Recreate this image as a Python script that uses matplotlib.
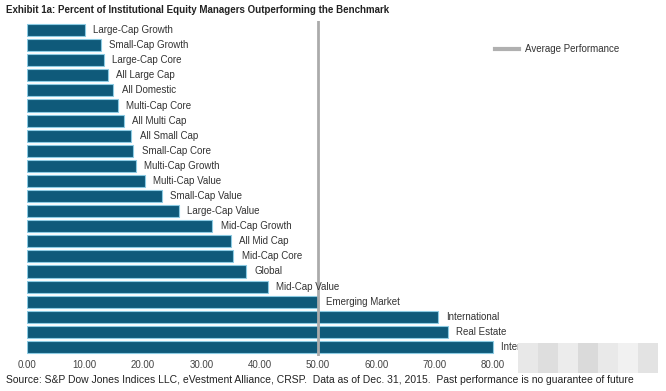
import matplotlib
matplotlib.use("Agg")
import matplotlib.pyplot as plt
from matplotlib.patches import Rectangle
from matplotlib.lines import Line2D
from matplotlib.transforms import Bbox, TransformedBbox

categories = ["Large-Cap Growth", "Small-Cap Growth", "Large-Cap Core", "All Large Cap",
              "All Domestic", "Multi-Cap Core", "All Multi Cap", "All Small Cap",
              "Small-Cap Core", "Multi-Cap Growth", "Multi-Cap Value", "Small-Cap Value",
              "Large-Cap Value", "Mid-Cap Growth", "All Mid Cap", "Mid-Cap Core", "Global",
              "Mid-Cap Value", "Emerging Market", "International", "Real Estate",
              "International Small Cap"]
values = [10.0, 12.7, 13.3, 14.0, 14.9, 15.7, 16.7, 18.0, 18.3, 18.7, 20.3, 23.2,
          26.1, 31.9, 35.1, 35.5, 37.6, 41.4, 50.0, 70.5, 72.3, 80.0]
average = 50.0
xticks = [0, 10, 20, 30, 40, 50, 60, 70, 80]

plt.rcParams['font.family'] = ['Liberation Sans', 'DejaVu Sans']

W, H = 666, 391
fig = plt.figure(figsize=(W / 100, H / 100), dpi=100)
fig.patch.set_facecolor('white')

ax = fig.add_axes([26.5 / W, (H - 356) / H, 524.7 / W, 335 / H])
ypos = list(range(len(categories)))
ax.barh(ypos, values, height=0.8, color='#0f5a7a', edgecolor='#8ccbe3', linewidth=0.8, zorder=2)
ax.axvline(average, color='#ababab', lw=2.0, zorder=3)

# watermark region (pixels from top-left): x 518..658, y 343..373
clip = TransformedBbox(Bbox([[0, 0], [518 / W, 1]]), fig.transFigure)
for y, v, c in zip(ypos, values, categories):
    t = ax.annotate(c, xy=(v, y), xytext=(6, 0), textcoords='offset points',
                    va='center', ha='left', fontsize=7, color='#333333', zorder=4)
    t.set_clip_box(clip)
    t.set_clip_on(True)

ax.set_xlim(0, 90)
ax.set_ylim(len(categories) - 0.4, -0.6)
ax.set_xticks(xticks)
ax.set_xticklabels([f"{t:.2f}" for t in xticks], fontsize=7, color='#444444')
ax.set_yticks([])
ax.tick_params(axis='x', length=0, pad=3)
for s in ax.spines.values():
    s.set_visible(False)

fig.text(6 / W, 1 - 10 / H, "Exhibit 1a: Percent of Institutional Equity Managers Outperforming the Benchmark",
         fontsize=7, fontweight='bold', color='#222222', va='center', ha='left')
fig.text(6 / W, 1 - 380 / H,
         "Source: S&P Dow Jones Indices LLC, eVestment Alliance, CRSP.  Data as of Dec. 31, 2015.  Past performance is no guarantee of future",
         fontsize=7.5, color='#222222', va='center', ha='left')

handle = Line2D([0], [0], color='#b0b0b0', lw=3)
fig.legend([handle], ["Average Performance"], loc='center left',
           bbox_to_anchor=(490 / W, 1 - 49 / H), frameon=False, fontsize=7,
           handlelength=2.5, handletextpad=0.6, borderpad=0, labelcolor='#333333')

# blurred watermark area drawn on an overlay
ov = fig.add_axes([0, 0, 1, 1], zorder=20)
ov.set_xlim(0, W)
ov.set_ylim(H, 0)
ov.axis('off')
ov.patch.set_alpha(0)
shades = ['#e8e8e8', '#dedede', '#ececec', '#dadada', '#e9e9e9', '#f1f1f1', '#e3e3e3']
for i, sh in enumerate(shades):
    ov.add_patch(Rectangle((518 + i * 20, 343), 20, 30, facecolor=sh, edgecolor='none'))

fig.savefig("out.png", dpi=100)
